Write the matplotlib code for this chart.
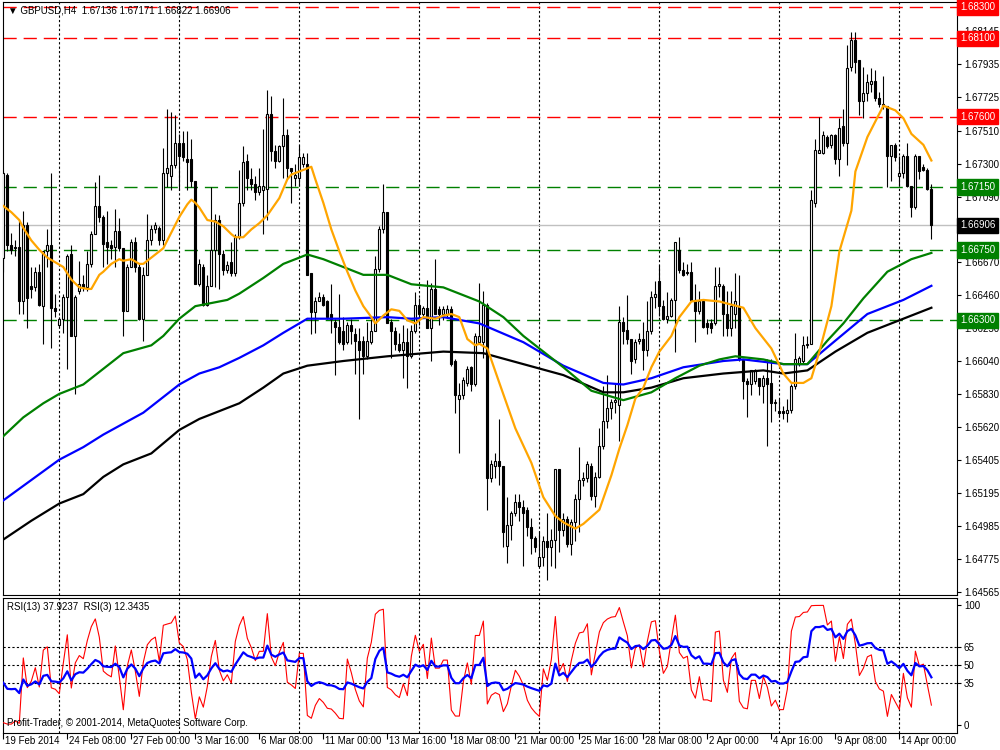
import numpy as np
import matplotlib
matplotlib.use("Agg")
import matplotlib.pyplot as plt

plt.rcParams['font.family'] = ['Liberation Sans', 'DejaVu Sans']

# GBPUSD H4 candles, in pips above 1.6000
opens = [670, 723, 678, 677, 677, 642, 691, 652, 651, 661, 639, 674, 678, 638, 627, 631, 645, 672, 620, 649,
         653, 651, 666, 685, 703, 696, 680, 678, 677, 687, 676, 636, 664, 680, 664, 631, 659, 681, 688, 689,
         681, 724, 722, 729, 743, 743, 733, 733, 719, 653, 664, 640, 652, 675, 694, 672, 662, 667, 660, 683,
         705, 732, 720, 717, 712, 713, 714, 762, 738, 732, 741, 748, 727, 721, 721, 730, 730, 660, 635, 642,
         645, 642, 634, 629, 626, 623, 616, 627, 621, 617, 617, 607, 616, 623, 663, 688, 699, 629, 623, 615,
         611, 616, 607, 623, 640, 634, 638, 625, 650, 637, 634, 634, 637, 604, 580, 582, 590, 600, 589, 616,
         616, 640, 529, 537, 540, 537, 486, 499, 507, 514, 511, 509, 498, 491, 473, 479, 489, 485, 490, 535,
         496, 503, 487, 501, 516, 528, 529, 537, 518, 530, 550, 566, 574, 578, 576, 629, 624, 618, 605, 617,
         618, 611, 623, 645, 655, 639, 631, 633, 643, 675, 662, 661, 661, 643, 636, 642, 628, 628, 628, 652,
         652, 634, 625, 634, 639, 605, 591, 589, 591, 593, 588, 593, 590, 577, 572, 572, 571, 573, 588, 602,
         604, 614, 615, 705, 737, 737, 747, 742, 748, 733, 754, 743, 792, 809, 796, 770, 775, 781, 783, 772,
         768, 767, 735, 742, 722, 724, 735, 716, 702, 735, 728, 726, 713.6]
highs = [725, 724, 686, 681, 694, 700, 693, 664, 664, 666, 674, 688, 724, 647, 632, 647, 672, 678, 646, 668,
         659, 674, 687, 718, 723, 697, 700, 681, 701, 695, 676, 666, 682, 683, 666, 664, 698, 691, 693, 690,
         740, 765, 763, 761, 749, 751, 751, 746, 719, 669, 666, 659, 715, 698, 697, 675, 668, 680, 685, 726,
         741, 736, 727, 722, 727, 752, 777, 773, 742, 742, 772, 752, 727, 730, 742, 737, 737, 660, 645, 648,
         647, 643, 653, 631, 647, 632, 629, 631, 625, 625, 620, 629, 631, 671, 690, 717, 699, 631, 626, 622,
         627, 625, 627, 648, 644, 639, 656, 654, 669, 639, 639, 640, 639, 605, 590, 594, 601, 601, 622, 654,
         649, 641, 541, 545, 567, 537, 517, 508, 519, 519, 515, 511, 504, 492, 495, 492, 507, 497, 535, 535,
         507, 505, 503, 519, 549, 533, 540, 539, 533, 561, 588, 595, 580, 590, 639, 632, 646, 618, 618, 622,
         629, 642, 649, 655, 665, 643, 648, 644, 680, 683, 667, 666, 667, 653, 649, 642, 631, 631, 664, 664,
         653, 649, 649, 660, 659, 605, 593, 598, 599, 593, 595, 605, 605, 580, 580, 575, 580, 589, 622, 607,
         620, 620, 713, 746, 760, 751, 748, 749, 749, 759, 765, 806, 814, 814, 796, 792, 787, 791, 790, 776,
         786, 767, 742, 743, 735, 736, 743, 716, 736, 735, 730, 727, 717.1]
lows = [661, 674, 672, 671, 634, 634, 625, 644, 649, 639, 615, 664, 612, 632, 626, 622, 599, 620, 583, 647,
        649, 649, 664, 685, 693, 664, 666, 669, 664, 674, 620, 636, 664, 661, 630, 617, 659, 678, 686, 678,
        678, 715, 713, 727, 713, 732, 713, 715, 653, 652, 639, 639, 652, 651, 650, 659, 660, 658, 658, 682,
        703, 713, 713, 707, 710, 685, 694, 732, 727, 731, 721, 720, 705, 716, 716, 728, 659, 621, 622, 642,
        639, 631, 622, 595, 615, 611, 615, 615, 596, 567, 596, 605, 615, 623, 661, 686, 628, 606, 611, 610,
        593, 587, 606, 622, 627, 632, 625, 604, 634, 627, 630, 632, 601, 571, 545, 580, 588, 585, 588, 615,
        606, 509, 527, 529, 525, 485, 475, 490, 505, 502, 473, 492, 481, 482, 473, 473, 464, 473, 472, 482,
        492, 485, 480, 489, 495, 524, 527, 515, 511, 529, 548, 561, 567, 571, 553, 615, 615, 596, 603, 615,
        598, 607, 621, 638, 633, 630, 628, 632, 610, 660, 658, 659, 642, 616, 634, 625, 621, 622, 627, 645,
        620, 620, 620, 625, 604, 580, 568, 582, 589, 582, 577, 550, 565, 572, 568, 567, 565, 571, 586, 601,
        603, 612, 615, 702, 737, 736, 740, 740, 730, 722, 741, 729, 789, 788, 761, 759, 770, 776, 770, 766,
        765, 715, 719, 732, 716, 721, 715, 696, 701, 720, 725, 713, 682.2]
closes = [724, 678, 675, 676, 642, 691, 644, 650, 661, 640, 674, 678, 638, 636, 631, 645, 671, 620, 645, 653,
          651, 666, 685, 703, 696, 679, 677, 676, 687, 676, 636, 664, 680, 664, 631, 659, 681, 688, 691, 681,
          724, 727, 729, 743, 735, 734, 731, 719, 653, 666, 640, 652, 675, 694, 672, 662, 665, 660, 683, 705,
          731, 721, 717, 712, 716, 716, 762, 738, 732, 741, 748, 727, 725, 723, 734, 734, 659, 635, 642, 645,
          640, 632, 631, 626, 616, 615, 627, 623, 617, 611, 607, 617, 623, 663, 688, 699, 628, 623, 615, 611,
          616, 607, 623, 640, 634, 638, 625, 650, 634, 634, 637, 637, 602, 582, 582, 592, 599, 589, 620, 620,
          640, 529, 538, 540, 537, 495, 499, 507, 514, 511, 507, 498, 491, 485, 479, 489, 485, 490, 535, 496,
          503, 487, 501, 516, 528, 529, 538, 518, 530, 550, 566, 574, 578, 579, 629, 623, 618, 604, 616, 618,
          611, 623, 645, 647, 639, 631, 633, 643, 680, 662, 659, 660, 643, 636, 642, 626, 626, 625, 652, 653,
          634, 625, 639, 642, 605, 591, 589, 598, 598, 588, 593, 589, 577, 578, 571, 571, 573, 588, 605, 606,
          614, 615, 707, 739, 739, 748, 741, 748, 733, 753, 743, 791, 809, 795, 770, 775, 782, 783, 772, 768,
          767, 735, 742, 734, 724, 735, 716, 702, 735, 725, 726, 714, 690.6]

# moving averages: bar index -> pips above 1.6000
ma_orange_idx = [0, 2, 4, 5, 7, 9, 11, 13, 15, 17, 19, 21, 22, 24, 25, 27, 29, 30, 32, 34, 35, 36, 38, 40, 42, 44,
                 46, 47, 48, 49, 51, 53, 55, 57, 58, 60, 62, 64, 66, 69, 71, 72, 74, 76, 77, 78, 80, 82, 84, 86,
                 88, 90, 92, 93, 95, 97, 99, 101, 103, 105, 108, 110, 112, 114, 115, 116, 118, 119, 121, 124,
                 128, 132, 135, 138, 140, 143, 145, 149, 152, 154, 156, 158, 160, 162, 164, 167, 169, 172, 175,
                 179, 185, 188, 192, 195, 197, 200, 202, 204, 207, 209, 212, 213, 216, 219, 220, 223, 225, 227,
                 230, 232]
ma_orange = [703, 699, 694, 689, 681, 675, 670, 667, 664, 656, 651, 650, 650, 659, 661, 666, 669, 668, 669, 666,
             666, 668, 672, 676, 686, 696, 704, 707, 705, 702, 694, 693, 690, 685, 683, 683, 688, 692, 697, 708,
             720, 723, 725, 727, 728, 720, 705, 688, 674, 661, 649, 639, 632, 628, 633, 637, 636, 630, 628, 632,
             631, 633, 634, 632, 625, 618, 614, 615, 612, 590, 561, 539, 517, 505, 501, 497, 500, 509, 531, 548,
             563, 580, 587, 600, 610, 620, 632, 642, 643, 642, 638, 625, 612, 596, 590, 590, 593, 610, 639, 674,
             700, 725, 747, 762, 767, 764, 759, 749, 742, 732]

ma_green_idx = [0, 5, 10, 14, 20, 25, 30, 37, 40, 44, 48, 52, 56, 59, 65, 70, 76, 80, 85, 90, 96, 102, 110, 119,
                125, 130, 140, 147, 155, 162, 168, 174, 179, 183, 190, 195, 201, 206, 210, 215, 221, 227, 232]
ma_green = [556, 568, 577, 583, 589, 599, 609, 614, 620, 631, 639, 641, 643, 647, 657, 666, 672, 669, 664, 659,
            659, 653, 651, 642, 632, 620, 600, 585, 579, 584, 593, 601, 605, 607, 605, 602, 602, 617, 628, 644,
            661, 669, 673]

ma_blue_idx = [0, 7, 14, 20, 25, 35, 44, 49, 54, 59, 65, 70, 76, 85, 96, 102, 110, 119, 130, 140, 150, 155, 162,
               170, 180, 185, 195, 201, 208, 216, 225, 232]
ma_blue = [515, 528, 541, 549, 557, 571, 589, 596, 600, 606, 614, 622, 631, 631, 632, 631, 632, 628, 616, 601,
           590, 589, 593, 600, 604, 605, 602, 602, 617, 634, 643, 652]

ma_black_idx = [0, 7, 14, 20, 25, 30, 37, 44, 49, 54, 59, 65, 70, 76, 85, 96, 110, 120, 130, 140, 150, 155, 162,
                170, 180, 190, 195, 201, 208, 216, 225, 232]
ma_black = [490, 502, 513, 519, 530, 538, 545, 560, 567, 572, 577, 587, 596, 601, 604, 607, 610, 609, 602, 595,
            584, 584, 587, 593, 596, 598, 596, 598, 610, 622, 631, 638]

red_levels = [1.6830, 1.6810, 1.6760]
green_levels = [1.6715, 1.6675, 1.6630]
last_price = 1.66906

price_ticks = [1.68145, 1.67935, 1.67725, 1.67510, 1.67300, 1.67090, 1.66880, 1.66670, 1.66460,
               1.66250, 1.66040, 1.65830, 1.65620, 1.65405, 1.65195, 1.64985, 1.64775, 1.64565]
time_labels = ['19 Feb 2014', '24 Feb 08:00', '27 Feb 00:00', '3 Mar 16:00', '6 Mar 08:00', '11 Mar 00:00',
               '13 Mar 16:00', '18 Mar 08:00', '21 Mar 00:00', '25 Mar 16:00', '28 Mar 08:00', '2 Apr 00:00',
               '4 Apr 16:00', '9 Apr 08:00', '14 Apr 00:00']


def to_price(v):
    return 1.6 + np.asarray(v, dtype=float) / 10000.0


def rsi(vals, period):
    # Wilder smoothing, seeded with the mean move over the first period
    d = np.diff(vals)
    up = np.where(d > 0, d, 0.0)
    dn = np.where(d < 0, -d, 0.0)
    ag = up[:period].mean()
    al = dn[:period].mean()
    out = np.empty(len(vals))
    out[0] = 100.0 * ag / (ag + al)
    for k in range(len(d)):
        ag = (ag * (period - 1) + up[k]) / period
        al = (al * (period - 1) + dn[k]) / period
        out[k + 1] = 100.0 * ag / (ag + al) if ag + al > 0 else 50.0
    return out


o = to_price(opens)
h = to_price(highs)
l = to_price(lows)
c = to_price(closes)
n = len(c)
x = np.arange(n)

fig = plt.figure(figsize=(10, 7.5), dpi=100)
ax = fig.add_axes([0.003, 1 - 595 / 750, 0.954, 593 / 750])
axr = fig.add_axes([0.003, 1 - 733 / 750, 0.954, 135 / 750])

xlim = (-0.075, 238.4)
grid_x = [13.9 + 30 * k for k in range(8)]

# ---- main price panel ----
for gx in grid_x:
    ax.axvline(gx, color='black', lw=0.8, ls=(0, (2, 2)), zorder=1)
    axr.axvline(gx, color='black', lw=0.8, ls=(0, (2, 2)), zorder=1)

for lv in red_levels:
    ax.axhline(lv, color='#ff0000', lw=1.0, ls=(0, (9.5, 5)), zorder=1)
for lv in green_levels:
    ax.axhline(lv, color='#008000', lw=1.0, ls=(0, (9.5, 5)), zorder=1)
ax.axhline(last_price, color='#c0c0c0', lw=1.0, zorder=1)

ax.vlines(x, l, h, color='black', lw=0.8, zorder=2)
bull = c >= o
body = np.maximum(np.abs(c - o), 0.00003)
ax.bar(x[bull], body[bull], bottom=np.minimum(o, c)[bull], width=0.55,
       color='white', edgecolor='black', linewidth=0.8, zorder=3)
ax.bar(x[~bull], body[~bull], bottom=np.minimum(o, c)[~bull], width=0.55,
       color='black', edgecolor='black', linewidth=0.8, zorder=3)

ax.plot(ma_black_idx, to_price(ma_black), color='black', lw=1.6, zorder=4)
ax.plot(ma_blue_idx, to_price(ma_blue), color='#0000ff', lw=1.6, zorder=4)
ax.plot(ma_green_idx, to_price(ma_green), color='#008000', lw=1.6, zorder=4)
ax.plot(ma_orange_idx, to_price(ma_orange), color='#ffa500', lw=1.6, zorder=5)

ax.set_xlim(*xlim)
ax.set_ylim(1.64546, 1.68332)
ax.set_xticks([])
ax.yaxis.tick_right()
ax.set_yticks(price_ticks)
ax.set_yticklabels(['%.5f' % t for t in price_ticks])
ax.tick_params(axis='y', direction='out', length=3, width=0.8, labelsize=7, pad=2)

for lv, col in [(v, '#ff0000') for v in red_levels] + [(v, '#008000') for v in green_levels] + [(last_price, 'black')]:
    ax.annotate('%.5f' % lv, xy=(1, lv), xycoords=('axes fraction', 'data'), xytext=(3, 0),
                textcoords='offset pixels', ha='left', va='center', fontsize=7, color='white',
                bbox=dict(boxstyle='square,pad=0.28', fc=col, ec=col), zorder=10, annotation_clip=False)

ax.text(0.005, 0.9865, '\u25bc GBPUSD,H4  1.67136 1.67171 1.66822 1.66906', transform=ax.transAxes,
        ha='left', va='center', fontsize=7, color='black')

# ---- RSI panel ----
rsi13 = rsi(c, 13)
rsi3 = rsi(c, 3)
for lv in [35, 50, 65]:
    axr.axhline(lv, color='black', lw=0.8, ls=(0, (2, 2)), zorder=1)
axr.plot(x, rsi3, color='#ff0000', lw=0.8, zorder=3)
axr.plot(x, rsi13, color='#0000ff', lw=1.6, zorder=4)

axr.set_xlim(*xlim)
axr.set_ylim(-6.6, 105.8)
axr.yaxis.tick_right()
axr.set_yticks([0, 35, 50, 65, 100])
axr.set_yticklabels(['0', '35', '50', '65', '100'])
axr.tick_params(axis='y', direction='out', length=3, width=0.8, labelsize=7, pad=2)

label_pos = [16 * k for k in range(len(time_labels))]
axr.set_xticks(label_pos)
axr.set_xticklabels([])
axr.tick_params(axis='x', direction='out', length=4, width=0.8)
for pos, txt in zip(label_pos, time_labels):
    axr.annotate(txt, xy=(pos, 0), xycoords=('data', 'axes fraction'), xytext=(2, -8),
                 textcoords='offset pixels', ha='left', va='center', fontsize=7, annotation_clip=False)

axr.text(0.004, 0.933, 'RSI(13) 37.9237  RSI(3) 12.3435', transform=axr.transAxes,
         ha='left', va='center', fontsize=7)
axr.text(0.004, 0.074, 'Profit-Trader, \u00a9 2001-2014, MetaQuotes Software Corp.', transform=axr.transAxes,
         ha='left', va='center', fontsize=7)

for a in (ax, axr):
    for s in a.spines.values():
        s.set_linewidth(0.8)

fig.savefig('out.png', dpi=100)
